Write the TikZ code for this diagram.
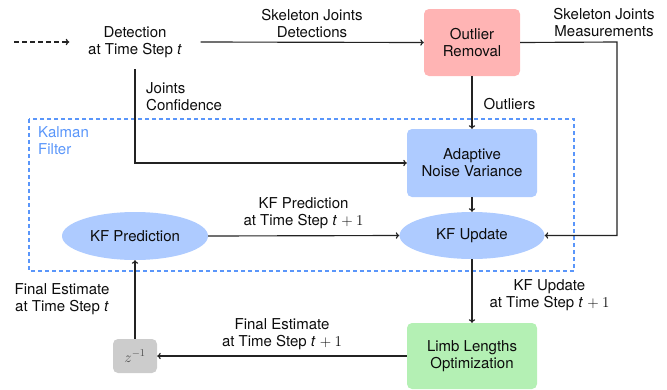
\RequirePackage{fix-cm}
\documentclass[tikz,border=0pt]{standalone}
\usepackage{fontspec}
\setmainfont{TeX Gyre Heros}
\usetikzlibrary{shapes.geometric,arrows.meta}
\definecolor{outred}{RGB}{255,180,180}
\definecolor{kfblue}{RGB}{174,203,255}
\definecolor{limbgreen}{RGB}{180,240,180}
\definecolor{zgray}{RGB}{204,204,204}
\definecolor{kfline}{RGB}{90,150,250}
\definecolor{linecol}{RGB}{35,35,35}
\newcommand{\tplus}{\textit{t} $+\:1$}
\begin{document}
\begin{tikzpicture}[x=1pt,y=-1pt,
  every node/.style={font=\fontsize{15}{17}\selectfont, text=black!95},
  lbl/.style={align=center, inner sep=0pt},
  box/.style={rounded corners=5pt, draw=none, align=center, inner sep=0pt},
  oval/.style={ellipse, draw=none, align=center, inner sep=0pt},
  arr/.style={-{To[length=3.5pt,width=6.5pt]}, line width=1.15pt, draw=linecol},
  kfbox/.style={draw=kfline, line width=1.3pt, dash pattern=on 4pt off 3pt}]
\useasboundingbox (0,0) rectangle (667,389);
% Kalman filter frame
\draw[kfbox] (29,119) rectangle (574,271);
\node[lbl, anchor=north west, align=left, text=kfline] (kflabel) at (38,126) {Kalman\\Filter};
% nodes
\node[lbl, minimum width=131pt, minimum height=54pt] (det) at (135,42) {Detection\\at Time Step \textit{t}};
\node[box, fill=outred, minimum width=96pt, minimum height=67pt] (out) at (472,42.5) {Outlier\\Removal};
\node[box, fill=kfblue, minimum width=130pt, minimum height=68pt] (anv) at (472,163) {Adaptive\\Noise Variance};
\node[oval, fill=kfblue, minimum width=145pt, minimum height=47pt] (upd) at (472,235.5) {KF Update};
\node[oval, fill=kfblue, minimum width=146pt, minimum height=48pt] (pred) at (135,236) {KF Prediction};
\node[box, fill=limbgreen, minimum width=130pt, minimum height=66pt] (limb) at (472,356) {Limb Lengths\\Optimization};
\node[box, fill=zgray, minimum width=44pt, minimum height=34pt, text=black!70] (z) at (135,356) {$z^{-1}$};
\coordinate (start) at (14,42);
\coordinate (rc) at (617,42);
% connectors
\draw[arr, dash pattern=on 5pt off 3pt] (start) -- (det.west);
\draw[arr] (det.east) -- (out.west);
\draw[arr] (out.east) -- (rc) |- (upd.east);
\draw[arr] (out.south) -- (anv.north);
\draw[arr] (det.south) |- (anv.west);
\draw[arr] (anv.south) -- (upd.north);
\draw[arr] (pred.east) -- (upd.west);
\draw[arr] (upd.south) -- (limb.north);
\draw[arr] (limb.west) -- (z.east);
\draw[arr] (z.north) -- (pred.south);
% labels
\node[lbl] (l1) at (312,24) {Skeleton Joints\\Detections};
\node[lbl] (l2) at (604,23) {Skeleton Joints\\Measurements};
\node[lbl] (l3) at (509.5,104) {Outliers};
\node[lbl, anchor=west, align=left] (l4) at (146,97) {Joints\\Confidence};
\node[lbl] (l5) at (303.5,213.5) {KF Prediction\\at Time Step \tplus};
\node[lbl] (l6) at (549.5,295.5) {KF Update\\at Time Step \tplus};
\node[lbl] (l7) at (282,334) {Final Estimate\\at Time Step \tplus};
\node[lbl] (l8) at (62,299) {Final Estimate\\at Time Step \textit{t}};
\end{tikzpicture}
\end{document}
